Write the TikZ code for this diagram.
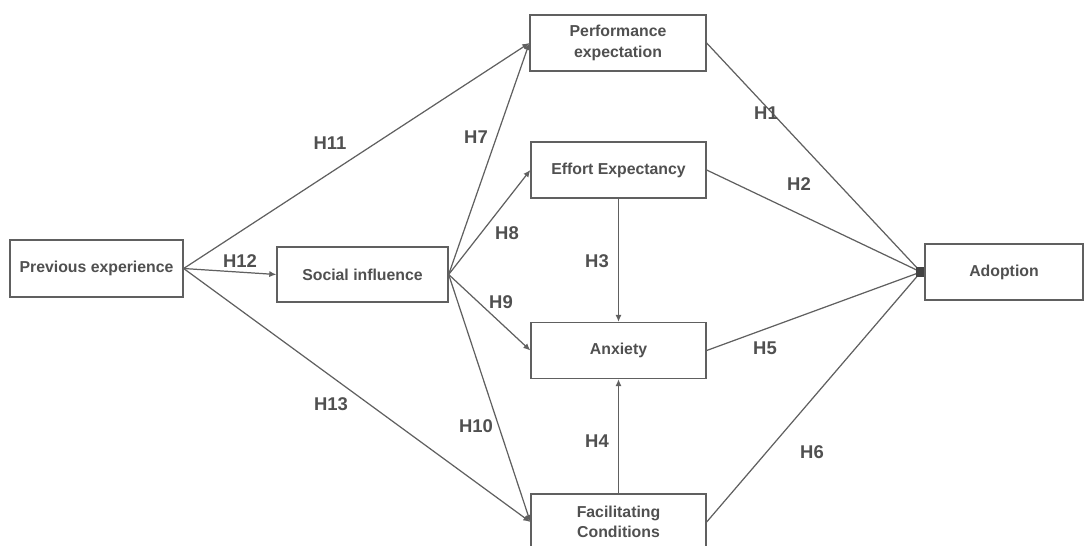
\documentclass[tikz,border=0pt]{standalone}
\usepackage{fontspec}
\setmainfont{Liberation Sans}
\usetikzlibrary{arrows.meta}
\definecolor{txtgray}{HTML}{505050}
\definecolor{linegray}{HTML}{606060}
\begin{document}
\begin{tikzpicture}[
		box/.style={draw=linegray, line width=0.75pt, fill=white, minimum height=1.12cm, align=center, font=\fontsize{9}{11.5}\selectfont\bfseries, text=txtgray, inner sep=0pt},
		hyp/.style={font=\fontsize{10.5}{12}\selectfont\bfseries, text=txtgray, inner sep=0pt},
		link/.style={draw=linegray, line width=0.7pt},
		arr/.style={link, -{Latex[length=4pt,width=3.5pt]}}
	]
	\useasboundingbox (0,0) rectangle (21.72,10.9);
	%--
	\node[box, minimum width=3.46cm, minimum height=1.14cm] (prev) at (1.93,5.53) {Previous experience};
	\node[box, minimum width=3.42cm, minimum height=1.1cm] (social) at (7.25,5.41) {Social influence};
	\node[box, minimum width=3.52cm] (perf) at (12.36,10.04) {Performance\\expectation};
	\node[box, minimum width=3.5cm] (effort) at (12.37,7.5) {Effort Expectancy};
	\node[box, minimum width=3.5cm] (anx) at (12.37,3.89) {Anxiety};
	\node[box, minimum width=3.5cm] (facil) at (12.37,0.46) {Facilitating\\Conditions};
	\node[box, minimum width=3.16cm] (adopt) at (20.08,5.46) {Adoption};
	\coordinate (dot) at ([xshift=-0.07cm]adopt.west);
	%--
	\draw[arr] (prev.east) -- (perf.west);
	\draw[arr] (prev.east) -- (social.west);
	\draw[arr] (prev.east) -- (facil.west);
	\draw[arr] (social.east) -- (perf.west);
	\draw[arr] (social.east) -- (effort.west);
	\draw[arr] (social.east) -- (anx.west);
	\draw[arr] (social.east) -- (facil.west);
	\draw[arr] (effort.south) -- (anx.north);
	\draw[arr] (facil.north) -- (anx.south);
	%--
	\draw[link] (perf.east) -- (dot);
	\draw[link] (effort.east) -- (dot);
	\draw[link] (anx.east) -- (dot);
	\draw[link] (facil.east) -- (dot);
	\fill[linegray!70!black] ([yshift=-0.1cm]adopt.west) rectangle ++(-0.16,0.2);
	%--
	\node[hyp] (h11) at (6.6,8.04) {H11};
	\node[hyp] (h12) at (4.8,5.68) {H12};
	\node[hyp] (h13) at (6.62,2.82) {H13};
	\node[hyp] (h7) at (9.52,8.16) {H7};
	\node[hyp] (h8) at (10.14,6.24) {H8};
	\node[hyp] (h9) at (10.02,4.86) {H9};
	\node[hyp] (h10) at (9.52,2.38) {H10};
	\node[hyp] (h3) at (11.94,5.68) {H3};
	\node[hyp] (h4) at (11.94,2.08) {H4};
	\node[hyp] (h1) at (15.32,8.64) {H1};
	\node[hyp] (h2) at (15.98,7.22) {H2};
	\node[hyp] (h5) at (15.3,3.94) {H5};
	\node[hyp] (h6) at (16.24,1.86) {H6};
\end{tikzpicture}
\end{document}
